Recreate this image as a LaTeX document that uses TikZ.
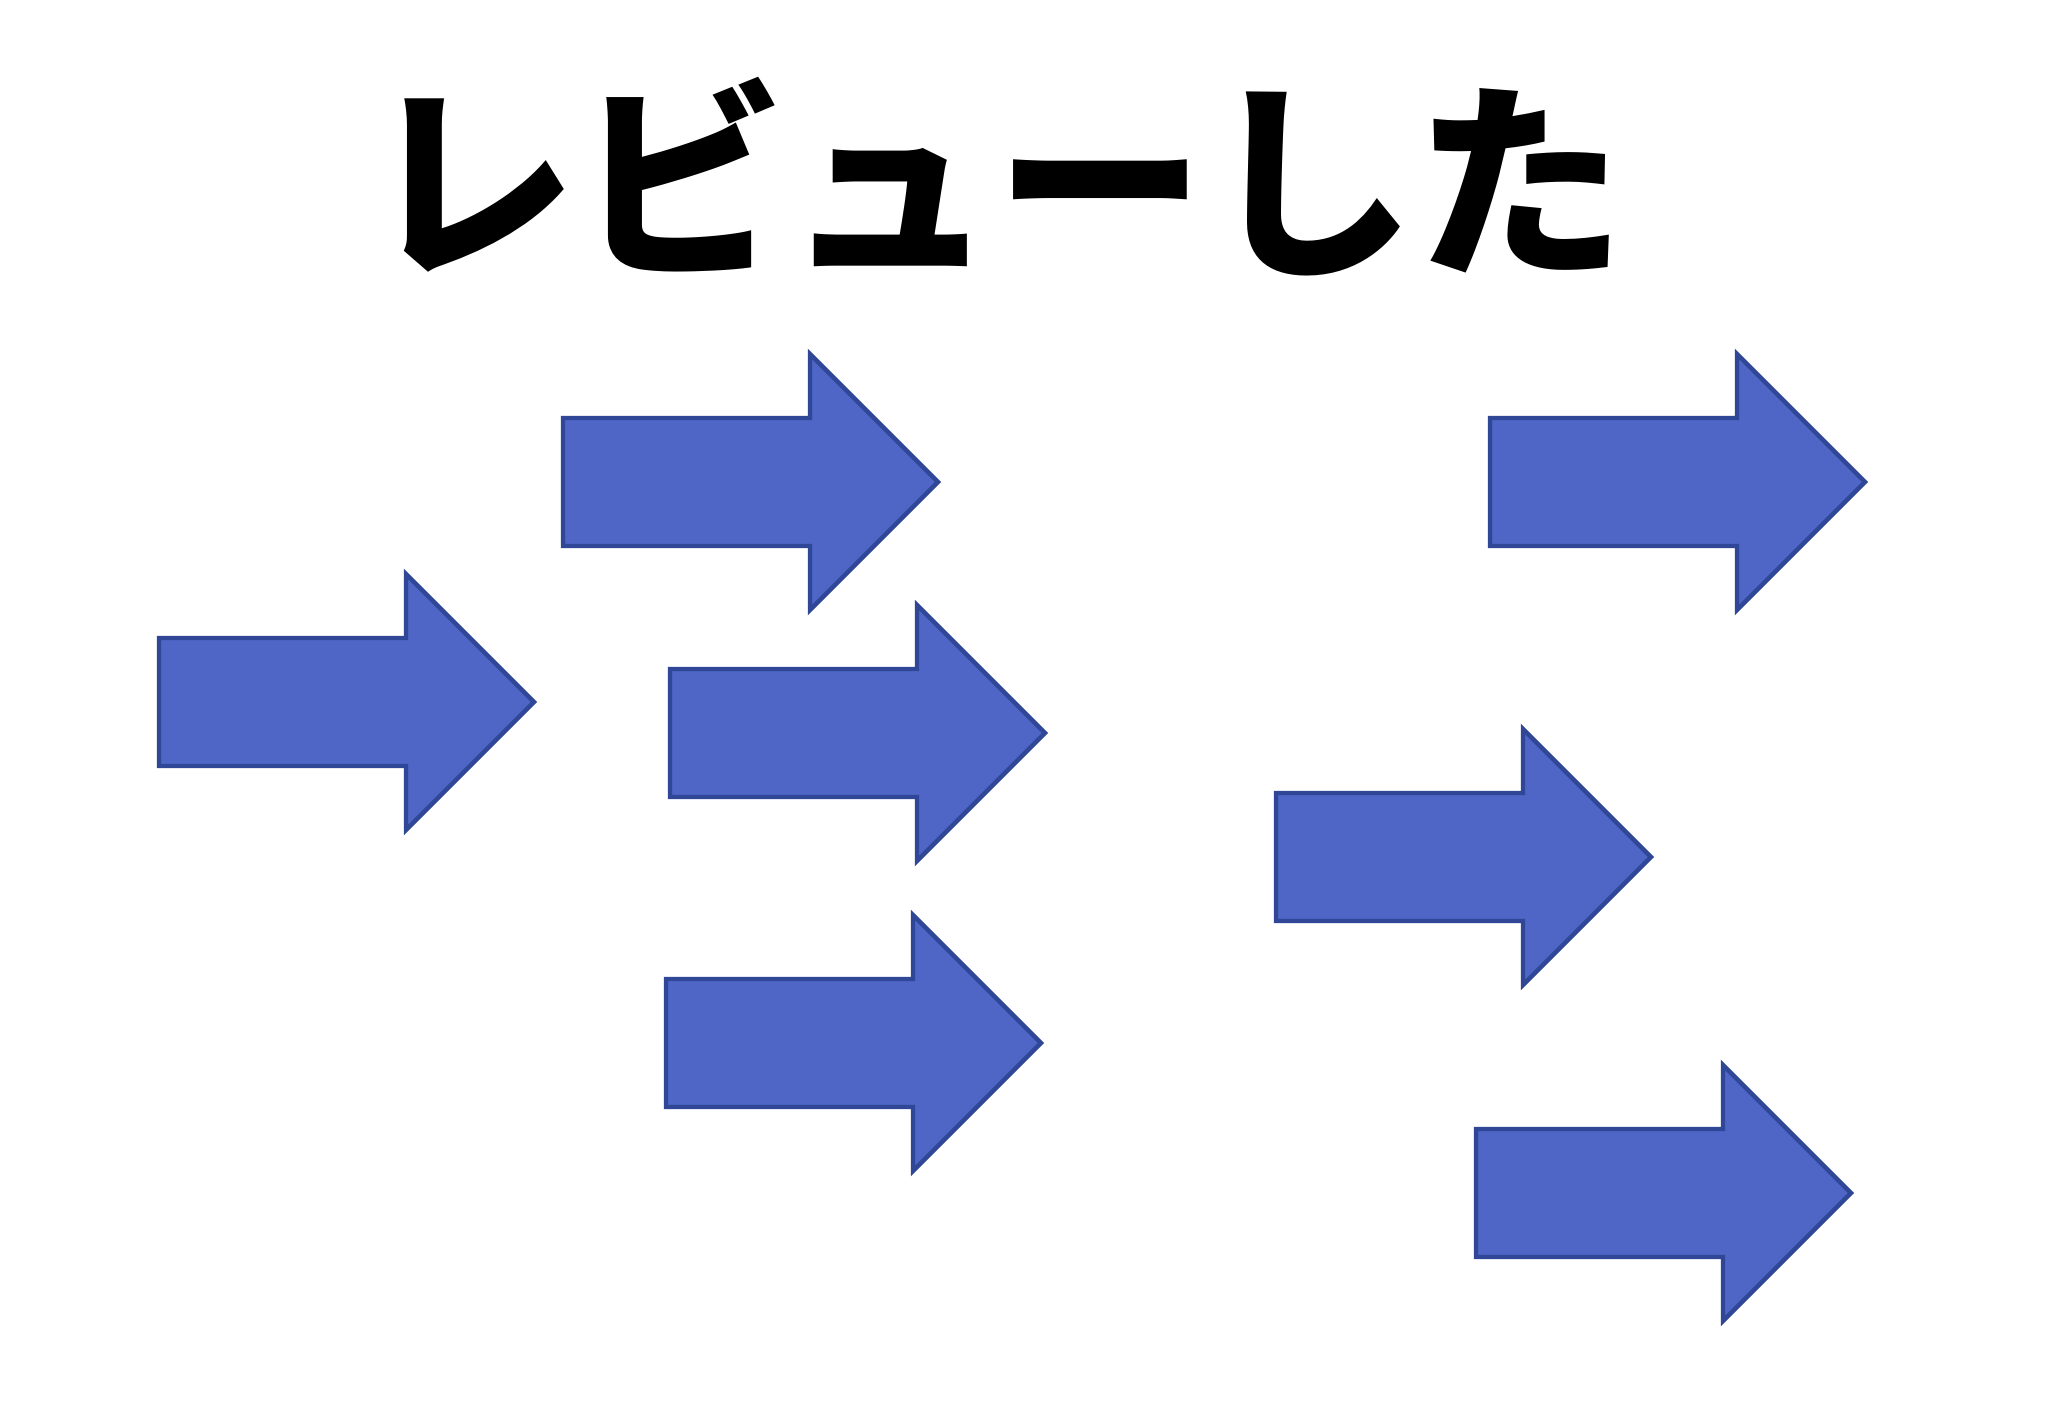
\documentclass[tikz,border=0pt]{standalone}
\usepackage{fontspec}
\newfontfamily\jpfont{Noto Sans CJK JP}
\definecolor{arrowfill}{HTML}{4F66C6}
\definecolor{arrowline}{HTML}{2F4796}
\begin{document}
\begin{tikzpicture}[x=0.25pt,y=-0.25pt,
  blockarrow/.style={fill=arrowfill,draw=arrowline,line width=1.1pt,line join=miter},
  titletext/.style={inner sep=0pt,font=\jpfont\bfseries\fontsize{52.5}{52.5}\selectfont}]
\useasboundingbox (0,0) rectangle (2048,1418);
\fill[white] (0,0) rectangle (2048,1418);
\node[titletext] (title) at (996,177) {レビューした};
\tikzset{rarrow/.pic={\path[blockarrow] (0,-64) -- (247,-64) -- (247,-128) -- (375,0) -- (247,128) -- (247,64) -- (0,64) -- cycle;}}
\pic (a1) at (563,482) {rarrow};
\pic (a2) at (159,702) {rarrow};
\pic (a3) at (670,733) {rarrow};
\pic (a4) at (666,1043) {rarrow};
\pic (a5) at (1490,482) {rarrow};
\pic (a6) at (1276,857) {rarrow};
\pic (a7) at (1476,1193) {rarrow};
\end{tikzpicture}
\end{document}
